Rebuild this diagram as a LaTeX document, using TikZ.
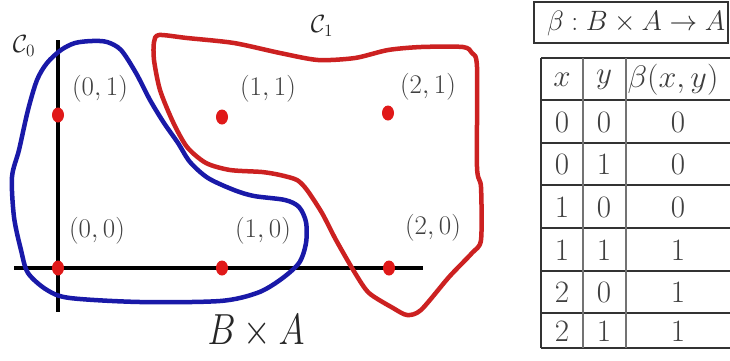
\documentclass[tikz,border=0pt]{standalone}
\usetikzlibrary{calc,shapes.geometric}
\definecolor{cblue}{rgb}{0.10,0.10,0.66}
\definecolor{cred}{rgb}{0.80,0.13,0.13}
\definecolor{dotred}{rgb}{0.88,0.10,0.10}
\definecolor{txt}{rgb}{0.25,0.25,0.25}
\newcommand\mysz[3]{\scalebox{#1}[#2]{\fontsize{20}{24}\selectfont #3}}
\tikzset{
  axis/.style={line width=4pt, black},
  dotpt/.style={ellipse, fill=dotred, minimum width=12pt, minimum height=15pt, inner sep=0pt},
  ptlabel/.style={text=txt, inner sep=0pt},
  setlabel/.style={text=black!85, inner sep=0pt},
  curveA/.style={line width=4.5pt, cblue, line join=round},
  curveB/.style={line width=4.5pt, cred, line join=round},
  tabtxt/.style={text=black!75, inner sep=0pt},
  hline/.style={line width=1.6pt, black!80},
  vline/.style={line width=1.2pt, black!55},
}
\newcommand\lab[1]{\mysz{1.3}{1.3}{$#1$}}
\newcommand\tcell[1]{\mysz{1.5}{1.5}{$#1$}}
\begin{document}
\begin{tikzpicture}[x=1pt,y=-1pt]
\useasboundingbox (0,0) rectangle (730,360);
\clip (0,0) rectangle (730,360);
\fill[white] (0,0) rectangle (730,360);

% axes
\coordinate (vt) at (58,40);
\coordinate (vb) at (58,312);
\coordinate (hl) at (14,268);
\coordinate (hr) at (423,268);
\draw[axis] (vt) -- (vb);
\draw[axis] (hl) -- (hr);

% C0 curve
\draw[curveA] plot[smooth cycle, tension=0.5] coordinates {
(75,43) (92,41) (107,42) (121,50) (136,73) (150,100) (164,123) (178,143)
(190,162) (208,178) (234,190) (254,196) (285,200) (299,207) (306,222)
(306,243) (299,263) (280,280) (257,293) (220,301) (140,302) (70,298)
(47,290) (28,273) (21,250) (14,217) (12,177) (19,150) (28,110) (37,80)
(47,63) (61,50)};

% C1 curve
\draw[curveB] plot[smooth cycle, tension=0.45] coordinates {
(159,35) (187,38) (234,43) (280,53) (318,60) (355,58) (388,50) (421,47)
(463,47) (472,53) (477,67) (477,167) (481,187) (481,240) (472,253)
(449,277) (421,310) (407,315) (393,308) (369,293) (355,273) (336,240)
(322,213) (307,190) (297,180) (280,175) (262,172) (230,170) (206,163)
(187,147) (173,122) (160,90) (154,60) (154,42)};

% points
\node[dotpt] (p01) at (58,115) {};
\node[dotpt] (p11) at (222,117) {};
\node[dotpt] (p21) at (388,113) {};
\node[dotpt] (p00) at (58,268) {};
\node[dotpt] (p10) at (222,268) {};
\node[dotpt] (p20) at (389,268) {};

% point labels
\node[ptlabel] (l01) at (100,89) {\lab{(0,1)}};
\node[ptlabel] (l11) at (268,89) {\lab{(1,1)}};
\node[ptlabel] (l21) at (428,87) {\lab{(2,1)}};
\node[ptlabel] (l00) at (97,231) {\lab{(0,0)}};
\node[ptlabel] (l10) at (263,231) {\lab{(1,0)}};
\node[ptlabel] (l20) at (433,228) {\lab{(2,0)}};

% set labels
\node[setlabel] (c0) at (24,46) {\mysz{1.2}{1.2}{$\mathcal{C}_0$}};
\node[setlabel] (c1) at (322,26) {\mysz{1.2}{1.2}{$\mathcal{C}_1$}};
\node[text=black!85, inner sep=0pt] (ba) at (256,331)
  {\mysz{1.7}{2.1}{$B\times A$}};

% beta box
\draw[line width=1.8pt, black!80] (534,2) rectangle (728,43);
\node[text=black!80, inner sep=0pt] (bt) at (636,23) {\mysz{1.33}{1.35}{$\beta : B\times A \rightarrow A$}};

% table
\def\tl{541}\def\cA{583}\def\cB{626}\def\tr{732}
\draw[hline] (\tl,58) -- (\tr,58);
\foreach \yy in {100,143,185,228,271,313,348} {
  \draw[hline] (\tl,\yy) -- (\tr,\yy);
}
\draw[hline] (\tl,58) -- (\tl,348);
\draw[vline] (\cA,58) -- (\cA,348);
\draw[vline] (\cB,58) -- (\cB,348);

\node[tabtxt] (hx) at (562,80) {\tcell{x}};
\node[tabtxt] (hy) at (604,80) {\tcell{y}};
\node[tabtxt] (hb) at (673,80) {\mysz{1.55}{1.5}{$\beta(x,y)$}};

\node[tabtxt] (r1x) at (562,122) {\tcell{0}};
\node[tabtxt] (r1y) at (604,122) {\tcell{0}};
\node[tabtxt] (r1b) at (678,122) {\tcell{0}};
\node[tabtxt] (r2x) at (562,164) {\tcell{0}};
\node[tabtxt] (r2y) at (604,164) {\tcell{1}};
\node[tabtxt] (r2b) at (678,164) {\tcell{0}};
\node[tabtxt] (r3x) at (562,207) {\tcell{1}};
\node[tabtxt] (r3y) at (604,207) {\tcell{0}};
\node[tabtxt] (r3b) at (678,207) {\tcell{0}};
\node[tabtxt] (r4x) at (562,250) {\tcell{1}};
\node[tabtxt] (r4y) at (604,250) {\tcell{1}};
\node[tabtxt] (r4b) at (678,250) {\tcell{1}};
\node[tabtxt] (r5x) at (562,292) {\tcell{2}};
\node[tabtxt] (r5y) at (604,292) {\tcell{0}};
\node[tabtxt] (r5b) at (678,292) {\tcell{1}};
\node[tabtxt] (r6x) at (562,331) {\tcell{2}};
\node[tabtxt] (r6y) at (604,331) {\tcell{1}};
\node[tabtxt] (r6b) at (678,331) {\tcell{1}};
\end{tikzpicture}
\end{document}
